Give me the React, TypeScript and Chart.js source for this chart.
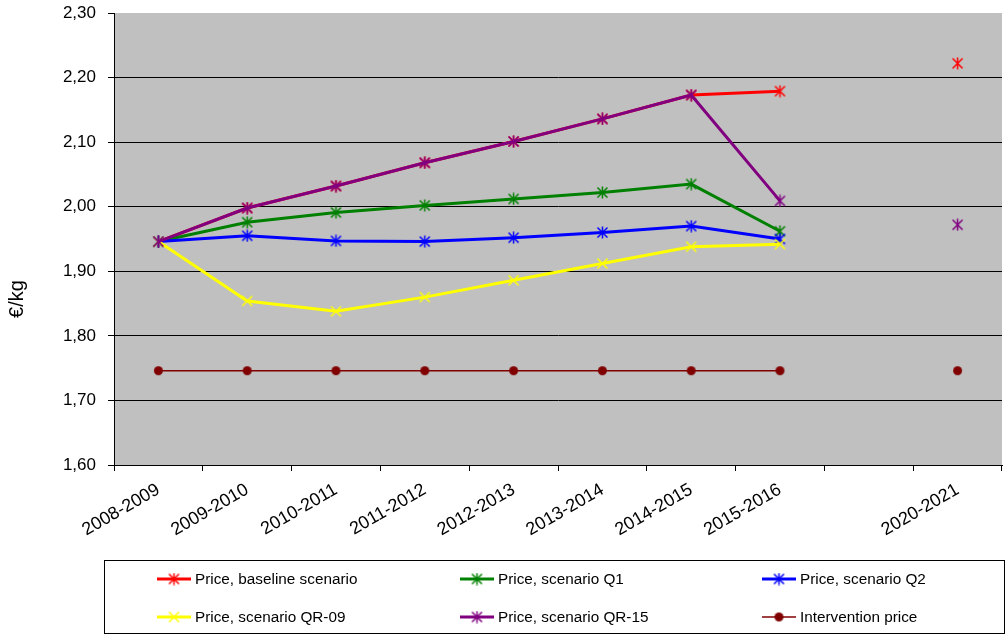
import React, { useEffect, useRef } from 'react';
import { Chart, registerables } from 'chart.js';

Chart.register(...registerables);

// ---- data ----
const categories = ['2008-2009', '2009-2010', '2010-2011', '2011-2012', '2012-2013', '2013-2014', '2014-2015', '2015-2016', '', '2020-2021'];
const baselineScenario = [1.946, 1.998, 2.032, 2.068, 2.101, 2.136, 2.173, 2.179, null, 2.222];
const scenarioQ1 = [1.946, 1.976, 1.991, 2.002, 2.012, 2.022, 2.035, 1.962, null, null];
const scenarioQ2 = [1.946, 1.955, 1.947, 1.946, 1.952, 1.960, 1.970, 1.950, null, null];
const scenarioQR09 = [1.946, 1.854, 1.838, 1.860, 1.886, 1.912, 1.938, 1.942, null, null];
const scenarioQR15 = [1.946, 1.998, 2.032, 2.068, 2.101, 2.136, 2.173, 2.009, null, 1.972];
const interventionPrice = [1.746, 1.746, 1.746, 1.746, 1.746, 1.746, 1.746, 1.746, null, 1.746];

const seriesNames = ['Price, baseline scenario', 'Price, scenario Q1', 'Price, scenario Q2', 'Price, scenario QR-09', 'Price, scenario QR-15', 'Intervention price'];
const seriesColors = ['#FF0000', '#008000', '#0000FF', '#FFFF00', '#800080', '#800000'];
const seriesMarkers = ['star', 'star', 'star', 'cross', 'star', 'circle'];
const seriesWidths = [3, 3, 3, 3, 3, 1.5];
const seriesData = [baselineScenario, scenarioQ1, scenarioQ2, scenarioQR09, scenarioQR15, interventionPrice];

const yMin = 1.6;
const yMax = 2.3;
const yStep = 0.1;
const yTitle = '€/kg';

const FONT = '"Liberation Sans", Arial, sans-serif';
const CANVAS_W = 1011;
const CANVAS_H = 635;

function makeMarker(color: string, kind: string): HTMLCanvasElement {
  const c = document.createElement('canvas');
  c.width = 13;
  c.height = 13;
  const g = c.getContext('2d')!;
  g.strokeStyle = color;
  g.fillStyle = color;
  g.lineWidth = 1.5;
  if (kind === 'circle') {
    g.beginPath();
    g.arc(6.5, 6.5, 4.5, 0, Math.PI * 2);
    g.fill();
  } else {
    g.beginPath();
    g.moveTo(1.5, 1.5);
    g.lineTo(11.5, 11.5);
    g.moveTo(11.5, 1.5);
    g.lineTo(1.5, 11.5);
    if (kind === 'star') {
      g.moveTo(6.5, 0.5);
      g.lineTo(6.5, 12.5);
    }
    g.stroke();
  }
  return c;
}

function zeroPadding(s: any) {
  s.paddingTop = 0;
  s.paddingBottom = 0;
  s.paddingLeft = 0;
  s.paddingRight = 0;
}

export default function App() {
  const ref = useRef<HTMLCanvasElement | null>(null);

  useEffect(() => {
    const canvas = ref.current;
    if (!canvas) return;
    const markers = seriesColors.map((c, i) => makeMarker(c, seriesMarkers[i]));

    const bgPlugin = {
      id: 'bg',
      beforeDraw(chart: any) {
        const { ctx, chartArea } = chart;
        ctx.save();
        ctx.fillStyle = '#FFFFFF';
        ctx.fillRect(0, 0, chart.width, chart.height);
        ctx.fillStyle = '#C0C0C0';
        ctx.fillRect(chartArea.left, chartArea.top, chartArea.right - chartArea.left, chartArea.bottom - chartArea.top);
        ctx.restore();
      },
    };

    const decoPlugin = {
      id: 'deco',
      afterDraw(chart: any) {
        const ctx = chart.ctx;
        ctx.save();
        // y title
        ctx.fillStyle = '#000';
        ctx.font = `20px ${FONT}`;
        ctx.textAlign = 'center';
        ctx.textBaseline = 'middle';
        ctx.translate(17, 299);
        ctx.rotate(-Math.PI / 2);
        ctx.fillText(yTitle, 0, 0);
        ctx.restore();

        // legend
        ctx.save();
        ctx.strokeStyle = '#000';
        ctx.lineWidth = 1;
        ctx.strokeRect(104.5, 560.5, 900, 73);
        const colX = [157, 460, 762];
        const rowY = [579, 617];
        ctx.font = `15.3px ${FONT}`;
        ctx.textBaseline = 'middle';
        ctx.textAlign = 'left';
        seriesNames.forEach((name, i) => {
          const x = colX[i % 3];
          const y = rowY[Math.floor(i / 3)];
          ctx.strokeStyle = seriesColors[i];
          ctx.lineWidth = seriesWidths[i];
          ctx.beginPath();
          ctx.moveTo(x, y);
          ctx.lineTo(x + 34, y);
          ctx.stroke();
          ctx.drawImage(markers[i], x + 17 - 6.5, y - 6.5);
          ctx.fillStyle = '#000';
          ctx.fillText(name, x + 38, y + 1);
        });
        ctx.restore();
      },
    };

    const n = seriesData.length;
    const chart = new Chart(canvas, {
      type: 'line',
      data: {
        labels: categories,
        datasets: seriesData.map((d, i) => ({
          label: seriesNames[i],
          data: d,
          borderColor: seriesColors[i],
          backgroundColor: seriesColors[i],
          borderWidth: seriesWidths[i],
          pointStyle: markers[i],
          pointRadius: 6,
          pointHoverRadius: 6,
          fill: false,
          tension: 0,
          spanGaps: false,
          order: n - i,
        })),
      },
      options: {
        animation: false,
        responsive: false,
        devicePixelRatio: 1,
        events: [],
        layout: { padding: { left: 0, right: 0, top: 13, bottom: 0 } },
        plugins: { legend: { display: false }, tooltip: { enabled: false } },
        scales: {
          x: {
            type: 'category',
            offset: true,
            grid: { display: true, drawOnChartArea: false, drawTicks: true, tickLength: 6, color: '#000', offset: true },
            border: { display: true, color: '#000', width: 1 },
            ticks: {
              autoSkip: false,
              maxRotation: 30,
              minRotation: 30,
              color: '#000',
              font: { family: FONT, size: 18 },
              padding: 8,
            },
            afterFit: (s: any) => {
              s.height = 170;
              zeroPadding(s);
            },
          },
          y: {
            min: yMin,
            max: yMax,
            ticks: {
              stepSize: yStep,
              color: '#000',
              font: { family: FONT, size: 17 },
              padding: 12,
              callback: (v: any) => Number(v).toFixed(2).replace('.', ','),
            },
            grid: {
              color: (c: any) => (c.tick && Math.abs(c.tick.value - yMax) < 1e-6 ? 'rgba(0,0,0,0)' : '#000'),
              tickColor: '#000',
              tickLength: 6,
              drawTicks: true,
            },
            border: { display: true, color: '#000', width: 1 },
            afterFit: (s: any) => {
              s.width = 114;
              zeroPadding(s);
            },
          },
        },
      },
      plugins: [bgPlugin, decoPlugin],
    } as any);

    return () => chart.destroy();
  }, []);

  return (
    <div style={{ position: 'absolute', left: 0, top: 0, width: 1008, height: 635, overflow: 'hidden' }}>
      <canvas ref={ref} width={CANVAS_W} height={CANVAS_H} style={{ display: 'block' }} />
    </div>
  );
}
